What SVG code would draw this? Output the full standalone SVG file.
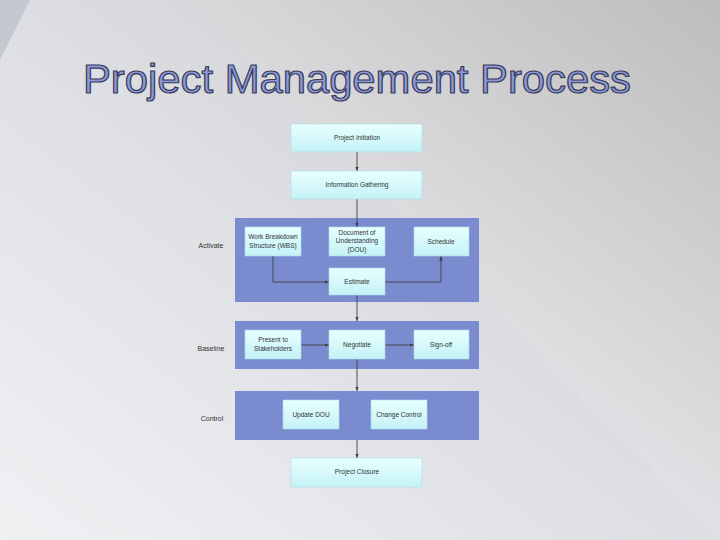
<svg xmlns="http://www.w3.org/2000/svg" width="720" height="540" viewBox="0 0 720 540">
<defs>
<linearGradient id="bg" x1="1" y1="0" x2="0" y2="1"><stop offset="0" stop-color="#bdbdbd"/><stop offset="0.55" stop-color="#e6e6ea"/><stop offset="1" stop-color="#ffffff"/></linearGradient>
<linearGradient id="box" x1="0" y1="0" x2="0" y2="1"><stop offset="0" stop-color="#e8ffff"/><stop offset="1" stop-color="#c4f2f6"/></linearGradient>
<marker id="ar" viewBox="0 0 10 10" refX="10" refY="5" markerWidth="5" markerHeight="5" orient="auto"><path d="M0,1 L10,5 L0,9z" fill="#404040"/></marker>
</defs>
<style>
.panel{fill:#7b8bd0}
.n{fill:url(#box);stroke:#a8dce4;stroke-width:0.6}
.t{font-family:"Liberation Sans",Arial,sans-serif;font-size:6.5px;fill:#333;text-anchor:middle}
.lab{font-family:"Liberation Sans",Arial,sans-serif;font-size:7px;fill:#333;text-anchor:middle}
.c{fill:none;stroke:#404040;stroke-width:0.9;marker-end:url(#ar)}
</style>
<rect width="720" height="540" fill="url(#bg)"/>
<path d="M0,0 L190,0 L720,540 L0,540 Z" fill="#d4d6dc" opacity="0.35"/>
<path d="M0,0 L30,0 L0,60 Z" fill="#c4c8d0"/>
<text x="83" y="93" textLength="548" lengthAdjust="spacingAndGlyphs" font-family="Liberation Sans,Arial,sans-serif" font-size="40" fill="#8a9ad8" stroke="#3a3a5a" stroke-width="1.2">Project Management Process</text>
<g id="panels">
<rect class="panel" x="235" y="218" width="244" height="84"/>
<rect class="panel" x="235" y="321" width="244" height="48"/>
<rect class="panel" x="235" y="391" width="244" height="49"/>
<text class="lab" x="211" y="248">Activate</text>
<text class="lab" x="211" y="351">Baseline</text>
<text class="lab" x="212" y="421">Control</text>
</g>
<g id="connectors">
<path class="c" d="M357,152 V171"/>
<path class="c" d="M357,199 V227"/>
<path class="c" d="M273,256 V282 H329"/>
<path class="c" d="M385,282 H441 V256"/>
<path class="c" d="M357,295 V321"/>
<path class="c" d="M301,345 H329"/>
<path class="c" d="M385,345 H414"/>
<path class="c" d="M357,359 V391"/>
<path class="c" d="M357,440 V458"/>
</g>
<g id="init"><rect class="n" x="291" y="124" width="131" height="28"/><text class="t" x="357" y="140">Project Initiation</text></g>
<g id="info"><rect class="n" x="291" y="171" width="131" height="28"/><text class="t" x="357" y="187">Information Gathering</text></g>
<g id="wbs"><rect class="n" x="245" y="227" width="56" height="29"/><text class="t" x="273" y="239">Work Breakdown</text><text class="t" x="273" y="248">Structure (WBS)</text></g>
<g id="dou"><rect class="n" x="329" y="227" width="56" height="29"/><text class="t" x="357" y="235">Document of</text><text class="t" x="357" y="243">Understanding</text><text class="t" x="357" y="252">(DOU)</text></g>
<g id="schedule"><rect class="n" x="414" y="227" width="55" height="29"/><text class="t" x="441" y="244">Schedule</text></g>
<g id="estimate"><rect class="n" x="329" y="268" width="56" height="27"/><text class="t" x="357" y="284">Estimate</text></g>
<g id="present"><rect class="n" x="245" y="330" width="56" height="29"/><text class="t" x="273" y="342">Present to</text><text class="t" x="273" y="351">Stakeholders</text></g>
<g id="negotiate"><rect class="n" x="329" y="330" width="56" height="29"/><text class="t" x="357" y="347">Negotiate</text></g>
<g id="signoff"><rect class="n" x="414" y="330" width="55" height="29"/><text class="t" x="441" y="347">Sign-off</text></g>
<g id="update"><rect class="n" x="283" y="400" width="56" height="29"/><text class="t" x="311" y="417">Update DOU</text></g>
<g id="change"><rect class="n" x="371" y="400" width="56" height="29"/><text class="t" x="399" y="417">Change Control</text></g>
<g id="closure"><rect class="n" x="291" y="458" width="131" height="29"/><text class="t" x="357" y="474">Project Closure</text></g>
</svg>
